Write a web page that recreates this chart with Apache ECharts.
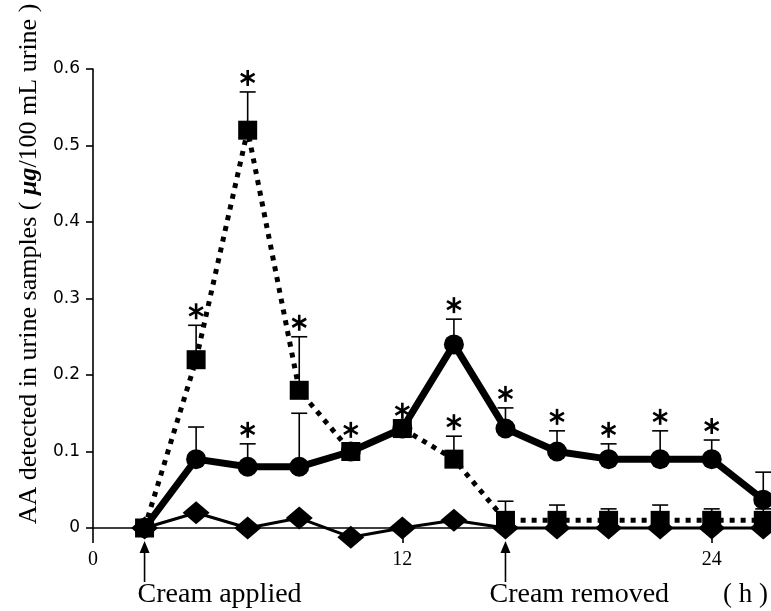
<!DOCTYPE html>
<html>
<head>
<meta charset="utf-8">
<script src="https://cdn.jsdelivr.net/npm/echarts@6/dist/echarts.min.js"></script>
<style>html,body{margin:0;padding:0;background:#fff;}#chart{width:771px;height:611px;}</style>
</head>
<body>
<div id="chart"></div>
<script>
// ---- data ----
const hours = [2, 4, 6, 8, 10, 12, 14, 16, 18, 20, 22, 24, 26];
const xTicks = [0, 12, 24];
const yTicks = [0, 0.1, 0.2, 0.3, 0.4, 0.5, 0.6];

const circleMean  = [0, 0.09, 0.08, 0.08, 0.10, 0.13, 0.24, 0.13, 0.10, 0.09, 0.09, 0.09, 0.037];
const circleUpper = [0, 0.132, 0.11, 0.15, 0.11, 0.13, 0.273, 0.157, 0.127, 0.11, 0.127, 0.115, 0.073];
const circleStar  = [0, 0, 1, 0, 1, 0, 1, 1, 1, 1, 1, 1, 0];

const squareMean  = [0, 0.22, 0.52, 0.18, 0.10, 0.13, 0.09, 0.01, 0.01, 0.01, 0.01, 0.01, 0.01];
const squareUpper = [0, 0.265, 0.57, 0.25, 0.10, 0.135, 0.12, 0.035, 0.03, 0.025, 0.03, 0.025, 0.025];
const squareStar  = [0, 1, 1, 1, 0, 1, 1, 0, 0, 0, 0, 0, 0];

const diamondMean = [0, 0.02, 0, 0.013, -0.012, 0, 0.01, 0, 0, 0, 0, 0, 0];

const eventHours  = [2, 16];
const eventLabels = ['Cream applied', 'Cream removed'];

const yTitle = 'AA detected in urine samples';

// ---- build ----
const pairs = (xs, ys) => xs.map((x, i) => [x, ys[i]]);
const errRows = (m, u, s) => hours.map((x, i) => [x, m[i], u[i], s[i]]);

function errRender(params, api) {
  const x = api.value(0), m = api.value(1), u = api.value(2), s = api.value(3);
  const pm = api.coord([x, m]), pu = api.coord([x, u]);
  const st = { stroke: '#000', lineWidth: 1.6 };
  const ch = [];
  if (u > m) {
    ch.push({ type: 'line', shape: { x1: pm[0], y1: pm[1], x2: pu[0], y2: pu[1] }, style: st });
    ch.push({ type: 'line', shape: { x1: pu[0] - 8, y1: pu[1], x2: pu[0] + 8, y2: pu[1] }, style: st });
  }
  if (s) {
    const cx = pu[0], cy = pu[1] - 14, r = 8;
    [90, 30, -30].forEach(a => {
      const t = a * Math.PI / 180, dx = Math.cos(t) * r, dy = Math.sin(t) * r;
      ch.push({ type: 'line', shape: { x1: cx - dx, y1: cy - dy, x2: cx + dx, y2: cy + dy },
        style: { stroke: '#000', lineWidth: 2.6 } });
    });
  }
  return { type: 'group', children: ch };
}

function eventRender(params, api) {
  const x = api.value(0);
  const p = api.coord([x, 0]);
  const dx = params.dataIndex === 0 ? -7 : -16;
  return {
    type: 'group',
    children: [
      { type: 'line', shape: { x1: p[0], y1: p[1] + 22, x2: p[0], y2: p[1] + 54 }, style: { stroke: '#000', lineWidth: 1.6 } },
      { type: 'polygon', shape: { points: [[p[0], p[1] + 13], [p[0] - 5, p[1] + 25], [p[0] + 5, p[1] + 25]] }, style: { fill: '#000' } },
      { type: 'text', x: p[0] + dx, y: p[1] + 67,
        style: { text: eventLabels[params.dataIndex], fill: '#000', font: '28px "Liberation Serif"', align: 'left', verticalAlign: 'middle' } }
    ]
  };
}

const chart = echarts.init(document.getElementById('chart'), null, { renderer: 'canvas' });
chart.setOption({
  animation: false,
  backgroundColor: '#fff',
  grid: { left: 93, right: 0, top: 69, bottom: 83, containLabel: false },
  xAxis: {
    type: 'value', min: 0, max: 26.3,
    splitLine: { show: false },
    axisLine: { onZero: false, lineStyle: { color: '#000', width: 1.6 } },
    axisTick: { customValues: xTicks, length: 15, lineStyle: { color: '#000', width: 1.6 } },
    axisLabel: { customValues: xTicks, margin: 22, color: '#000', fontFamily: 'Liberation Serif', fontSize: 20 }
  },
  yAxis: {
    type: 'value', min: 0, max: 0.6, interval: 0.1,
    splitLine: { show: false },
    axisLine: { show: true, lineStyle: { color: '#000', width: 1.6 } },
    axisTick: { length: 7, lineStyle: { color: '#000', width: 1.6 } },
    axisLabel: { margin: 13, color: '#000', fontFamily: 'DejaVu Sans', fontSize: 17,
      formatter: v => (yTicks.indexOf(Math.round(v * 10) / 10) >= 0 ? (v === 0 ? '0' : v.toFixed(1)) : '') }
  },
  graphic: [
    { type: 'text', x: 29, y: 264, rotation: Math.PI / 2,
      style: { text: yTitle + ' ( {i|μg}/100 mL urine )', align: 'center', verticalAlign: 'middle',
        font: '26px "Liberation Serif"', fill: '#000',
        rich: { i: { font: 'italic bold 26px "Liberation Serif"', fill: '#000' } } } },
    { type: 'text', x: 723, y: 595,
      style: { text: '( h )', font: '27px "Liberation Serif"', fill: '#000', align: 'left', verticalAlign: 'middle' } }
  ],
  series: [
    { type: 'line', name: 'diamond', data: pairs(hours, diamondMean), clip: false,
      symbol: 'diamond', symbolSize: [27, 23], showSymbol: true,
      lineStyle: { color: '#000', width: 3 }, itemStyle: { color: '#000' }, z: 2 },
    { type: 'line', name: 'square', data: pairs(hours, squareMean), clip: false,
      symbol: 'rect', symbolSize: 19,
      lineStyle: { color: '#000', width: 5, type: [5, 6], cap: 'butt' }, itemStyle: { color: '#000' }, z: 3 },
    { type: 'line', name: 'circle', data: pairs(hours, circleMean), clip: false,
      symbol: 'circle', symbolSize: 20,
      lineStyle: { color: '#000', width: 7 }, itemStyle: { color: '#000' }, z: 4 },
    { type: 'custom', name: 'squareErr', renderItem: errRender, data: errRows(squareMean, squareUpper, squareStar), z: 5, clip: false },
    { type: 'custom', name: 'circleErr', renderItem: errRender, data: errRows(circleMean, circleUpper, circleStar), z: 5, clip: false },
    { type: 'custom', name: 'events', renderItem: eventRender, data: eventHours.map(h => [h]), z: 6, clip: false }
  ]
});
</script>
</body>
</html>
